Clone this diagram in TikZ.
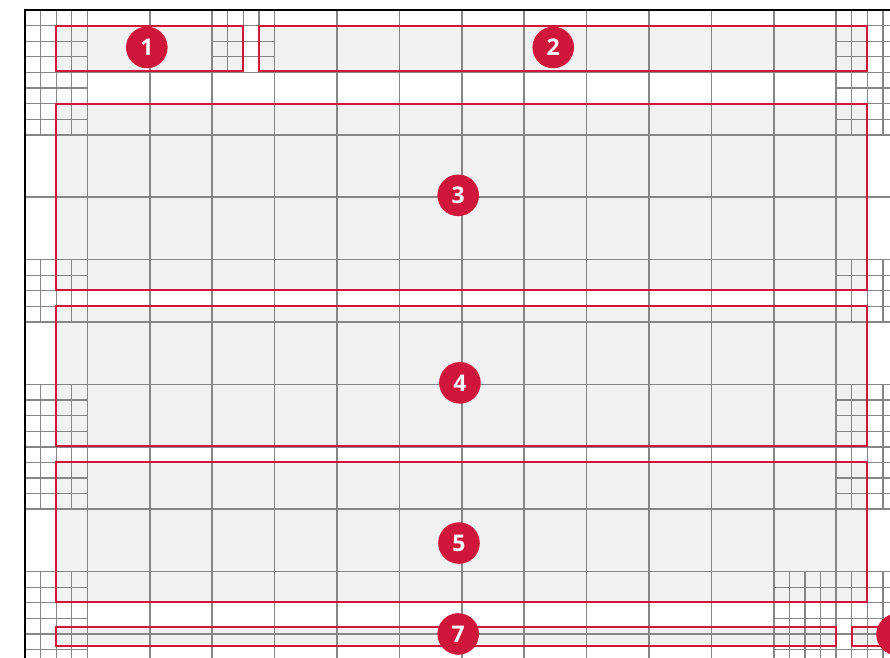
\documentclass[tikz,border=0pt]{standalone}
\usepackage{fontspec}
\setsansfont{Open Sans}
\usepackage{xcolor}
\usepackage{tikz}
\definecolor{paper}{HTML}{F2F2F2}
\definecolor{accent}{HTML}{D0163A}
\definecolor{rule}{HTML}{868686}
\tikzset{
  cell/.style={draw=rule, line width=1.5pt},
  sub/.style={draw=rule, line width=1.2pt},
  zone/.style={draw=accent, line width=2pt},
  frame/.style={draw=black, line width=2.4pt},
  num/.style={circle, fill=accent, text=white, minimum size=41.6pt, inner sep=0pt,
    font=\sffamily\bfseries\fontsize{23}{23}\selectfont}
}

\begin{document}
\begin{tikzpicture}[x=15.6pt, y=-15.6pt]
\useasboundingbox (-1.6026,-0.641) rectangle (55.449,41.538);
\clip (-1.6026,-0.641) rectangle (55.449,41.538);
\fill[white] (-1.6026,-0.641) rectangle (55.449,41.538);
% zone fills
\foreach \a/\b/\c/\d in {2/1/14/3.93, 15/1/54/3.93, 2/6/54/17.95, 2/19/54/27.95, 2/29/54/37.95, 2/39.55/52/40.8, 53/39.55/60/40.8}
  \fill[paper] (\a,\b) rectangle (\c,\d);
% main grid
\foreach \i in {4,8,...,52} \draw[cell] (\i,0) -- (\i,44);
\foreach \j in {4,8,...,40} \draw[cell] (0,\j) -- (56,\j);
% quartered cells
\foreach \c/\r in {0/0,0/1,3/0,13/0,13/1,0/4,13/4,0/6,0/7,13/6,13/7,0/9,0/10,12/9,12/10,13/9,13/10} {
  \foreach \k in {1,2,3} {
    \draw[sub] (4*\c+\k,4*\r) -- ++(0,4);
    \draw[sub] (4*\c,4*\r+\k) -- ++(4,0);
  }
}
% zone outlines
\foreach \a/\b/\c/\d in {2/1/14/3.93, 15/1/54/3.93, 2/6/54/17.95, 2/19/54/27.95, 2/29/54/37.95, 2/39.55/52/40.8, 53/39.55/60/40.8}
  \draw[zone] (\a,\b) rectangle (\c,\d);
% frame
\draw[frame] (0,44) -- (0,0) -- (56,0);
% badges
\node[num] (n1) at (7.81,2.4) {1};
\node[num] (n2) at (33.86,2.4) {2};
\node[num] (n3) at (27.77,11.88) {3};
\node[num] (n4) at (27.88,23.9) {4};
\node[num] (n5) at (27.82,34.17) {5};
\node[num] (n6) at (55.9,40.03) {6};
\node[num] (n7) at (27.77,40.0) {7};
\end{tikzpicture}
\end{document}
